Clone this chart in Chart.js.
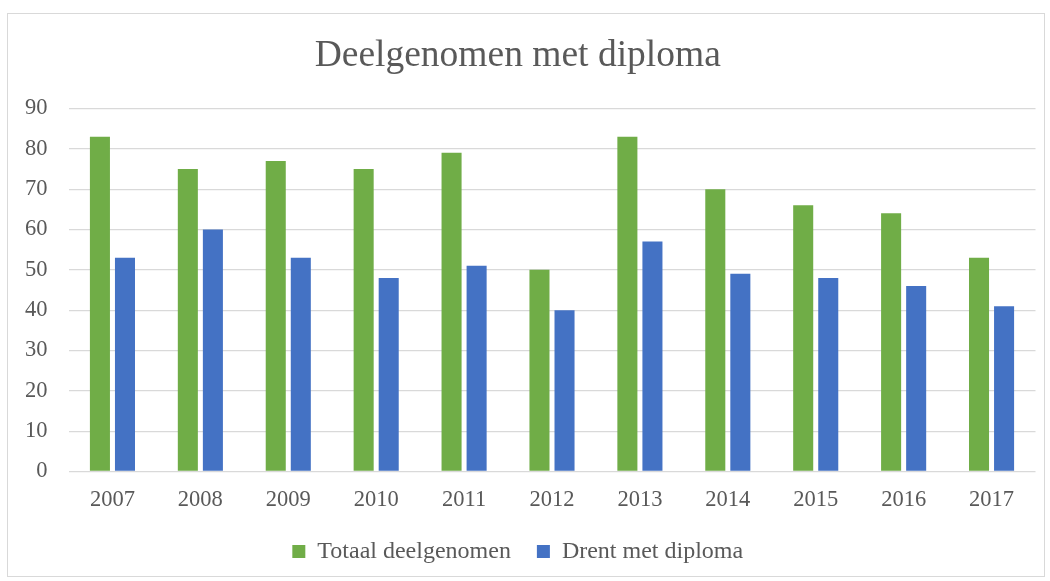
<!DOCTYPE html>
<html>
<head>
<meta charset="utf-8">
<script src="https://cdn.jsdelivr.net/npm/chart.js@4"></script>
<style>
  html, body { margin: 0; padding: 0; background: #fff; }
  #frame {
    position: absolute; left: 7px; top: 13px; width: 1038px; height: 564px;
    border: 1px solid #d9d9d9; box-sizing: border-box;
  }
  #wrap { position: absolute; left: 0; top: 0; width: 1050px; height: 581px; }
</style>
</head>
<body>
<div id="frame"></div>
<div id="wrap"><canvas id="chart"></canvas></div>
<script>
// Chart data
const years = ["2007", "2008", "2009", "2010", "2011", "2012", "2013", "2014", "2015", "2016", "2017"];
const totaalDeelgenomen = [83, 75, 77, 75, 79, 50, 83, 70, 66, 64, 53];
const drentMetDiploma = [53, 60, 53, 48, 51, 40, 57, 49, 48, 46, 41];
const yTicks = [0, 10, 20, 30, 40, 50, 60, 70, 80, 90];

const serif = "'Liberation Serif', 'Times New Roman', serif";
const textColor = "#595959";

new Chart(document.getElementById("chart"), {
  type: "bar",
  data: {
    labels: years,
    datasets: [
      {
        label: "Totaal deelgenomen",
        data: totaalDeelgenomen,
        backgroundColor: "#70ad47",
        categoryPercentage: 0.57,
        barPercentage: 0.8,
      },
      {
        label: "Drent met diploma",
        data: drentMetDiploma,
        backgroundColor: "#4472c4",
        categoryPercentage: 0.57,
        barPercentage: 0.8,
      },
    ],
  },
  options: {
    responsive: true,
    maintainAspectRatio: false,
    animation: false,
    layout: { padding: { top: 14, right: 14.5, bottom: 7.5, left: 0 } },
    plugins: {
      title: {
        display: true,
        text: "Deelgenomen met diploma",
        color: textColor,
        font: { family: serif, size: 37.5, weight: "normal" },
        padding: { top: 20, bottom: 29.5 },
      },
      legend: {
        position: "bottom",
        labels: {
          color: textColor,
          font: { family: serif, size: 24 },
          boxWidth: 13,
          boxHeight: 13,
          padding: 26,
        },
      },
      tooltip: { enabled: false },
    },
    scales: {
      x: {
        grid: { display: false },
        border: { display: false },
        ticks: { color: textColor, font: { family: serif, size: 22.5 }, padding: 7 },
        afterFit: (scale) => { scale.height = 42; },
      },
      y: {
        min: 0,
        max: 90,
        afterBuildTicks: (scale) => { scale.ticks = yTicks.map((v) => ({ value: v })); },
        grid: { color: "#d9d9d9", lineWidth: 1.3, drawTicks: false },
        border: { display: false },
        ticks: { color: textColor, font: { family: serif, size: 22.5 }, padding: 21 },
        afterFit: (scale) => { scale.width = 68.5; },
      },
    },
  },
});
</script>
</body>
</html>
